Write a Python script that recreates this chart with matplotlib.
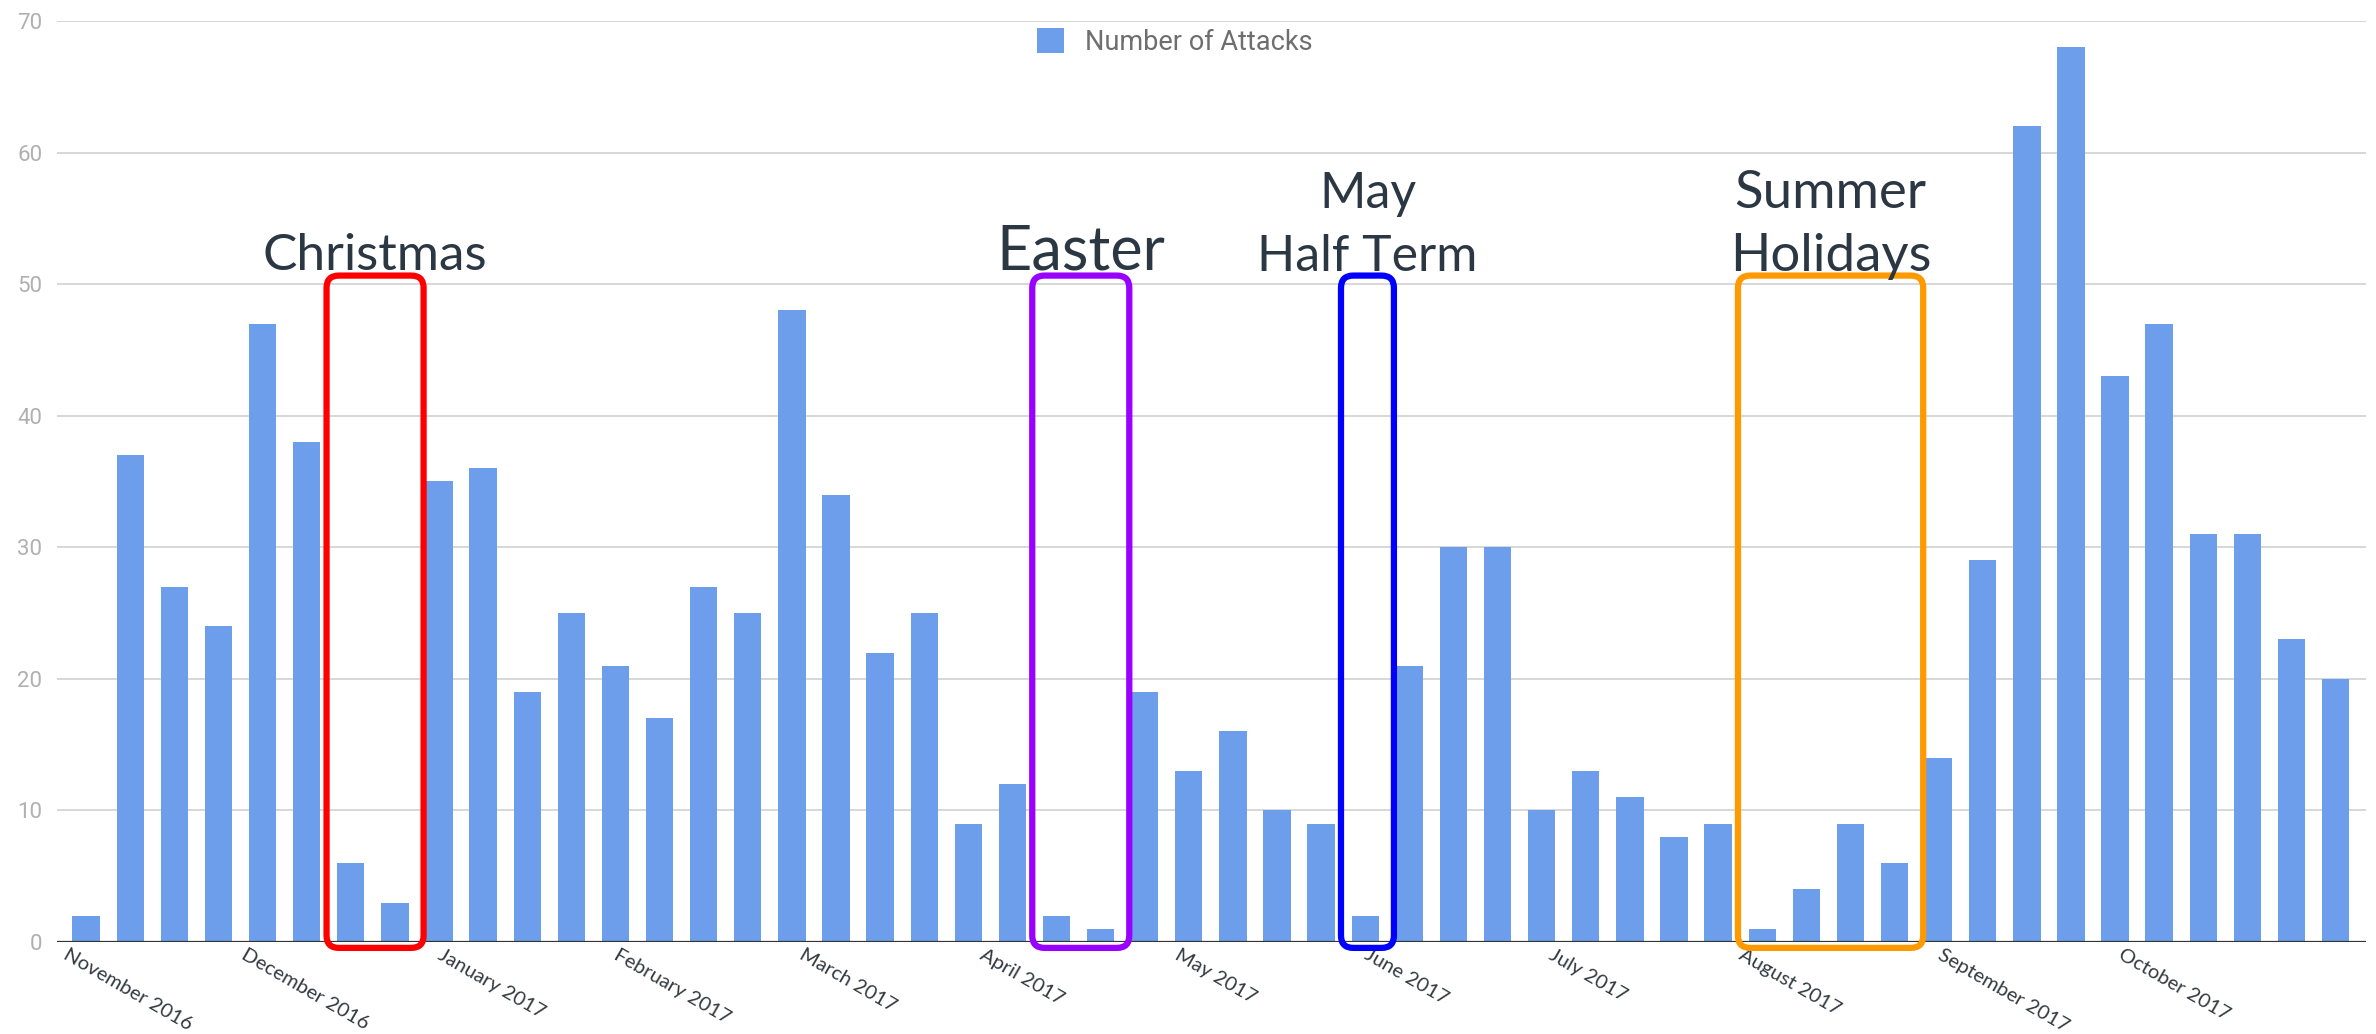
import matplotlib.pyplot as plt
from matplotlib.patches import FancyBboxPatch

# Weekly attack counts, Nov 2016 - Oct 2017
attacks = [2, 37, 27, 24, 47, 38, 6, 3, 35, 36, 19, 25, 21, 17, 27, 25, 48, 34,
           22, 25, 9, 12, 2, 1, 19, 13, 16, 10, 9, 2, 21, 30, 30, 10, 13, 11,
           8, 9, 1, 4, 9, 6, 14, 29, 62, 68, 43, 47, 31, 31, 23, 20]

month_labels = ["November 2016", "December 2016", "January 2017", "February 2017",
                "March 2017", "April 2017", "May 2017", "June 2017", "July 2017",
                "August 2017", "September 2017", "October 2017"]
month_pos = [-0.4, 3.65, 8.1, 12.1, 16.3, 20.4, 24.8, 29.1, 33.3, 37.6, 42.1, 46.2]

# Holiday periods: (first week, last week, colour, label lines, font size)
holidays = [
    (6, 7, "#ff0000", ["Christmas"], 37),
    (22, 23, "#9900ff", ["Easter"], 44),
    (29, 29, "#0000ff", ["May", "Half Term"], 36),
    (38, 41, "#ff9900", ["Summer", "Holidays"], 38),
]

BAR = "#6d9eeb"
TEXT = "#2b3843"

fig = plt.figure(figsize=(23.76, 10.34), dpi=100)
ax = fig.add_axes([0.0242, 0.0890, 0.9716, 0.8907])

x = list(range(len(attacks)))
ax.bar(x, attacks, width=0.62, color=BAR, label="Number of Attacks", zorder=2)

ax.set_xlim(-0.65, 51.69)
ax.set_ylim(0, 70)
ax.set_yticks(range(0, 71, 10))
ax.grid(axis="y", color="#d4d4d4", linewidth=1.3, zorder=0)
ax.axhline(0, color="#333333", linewidth=1.6, zorder=3)

for side in ["top", "right", "left", "bottom"]:
    ax.spines[side].set_visible(False)

ax.tick_params(axis="y", length=0, pad=11, labelsize=16, labelcolor="#b0b0b0")
for lab in ax.get_yticklabels():
    lab.set_family("Roboto")

ax.set_xticks(month_pos, month_labels)
ax.tick_params(axis="x", length=0, pad=3)
for lab in ax.get_xticklabels():
    lab.set_rotation(-30)
    lab.set_ha("left")
    lab.set_va("top")
    lab.set_rotation_mode("anchor")
    lab.set_family("Lato")
    lab.set_fontsize(14.5)
    lab.set_color("#333a40")

# rounded boxes need the x/y pixel ratio to keep corners circular
fig.canvas.draw()
p0 = ax.transData.transform((0, 0))
p1 = ax.transData.transform((1, 1))
aspect = (p1[0] - p0[0]) / (p1[1] - p0[1])

for first, last, color, lines, size in holidays:
    left = first - 0.55
    right = last + 0.65
    bottom, top = -0.45, 50.65
    box = FancyBboxPatch((left, bottom), right - left, top - bottom,
                         boxstyle="round,pad=0,rounding_size=0.28",
                         mutation_aspect=aspect, fill=False,
                         edgecolor=color, linewidth=4.5, zorder=4, clip_on=False)
    ax.add_patch(box)
    cx = (first + last) / 2 + 0.05
    base = 51.1 if len(lines) == 1 else 51.0
    for i, line in enumerate(reversed(lines)):
        ax.text(cx, base + i * 4.75, line, ha="center", va="baseline",
                fontsize=size, family="Lato", color=TEXT, zorder=5)

leg = ax.legend(loc="center", bbox_to_anchor=(0.484, 0.977), frameon=False,
                handlelength=1.0, handleheight=1.0, handletextpad=0.8,
                prop={"family": "Roboto", "size": 19.5})
for t in leg.get_texts():
    t.set_color("#6e6e6e")

fig.savefig("out.png", dpi=100)
